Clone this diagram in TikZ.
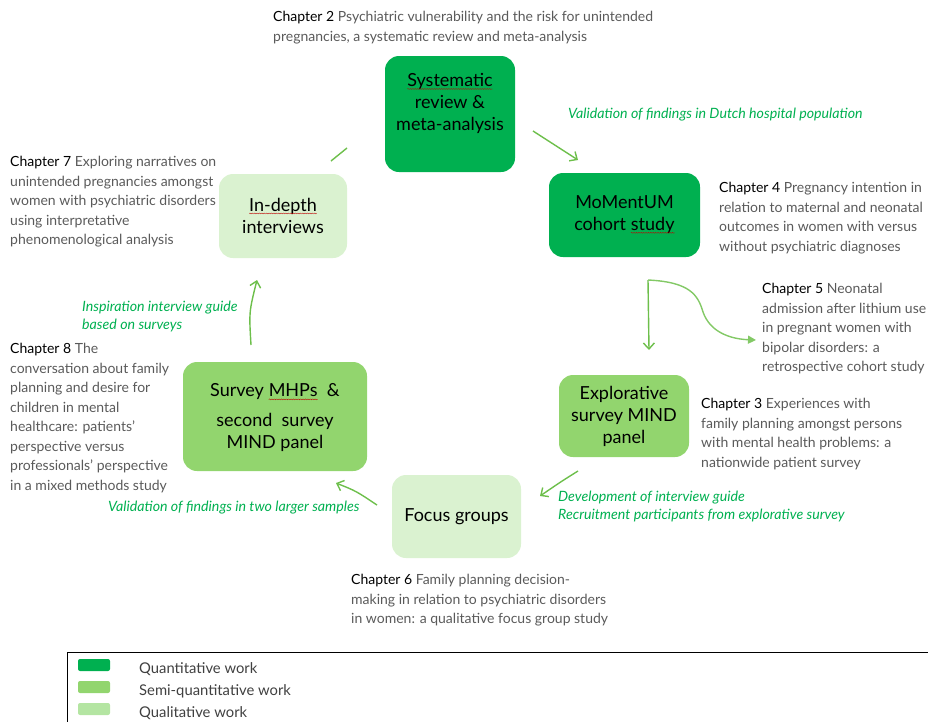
\documentclass[tikz,border=0pt]{standalone}
\usepackage{fontspec}
\setmainfont{Lato}
\usetikzlibrary{arrows.meta,decorations.pathmorphing}
\definecolor{quant}{HTML}{00B050}
\definecolor{semi}{HTML}{92D56E}
\definecolor{qual}{HTML}{DAF2D0}
\definecolor{qualkey}{HTML}{B4E5A2}
\definecolor{arrowgreen}{HTML}{6DBF4B}
\definecolor{labelgreen}{HTML}{00B050}
\definecolor{chapgray}{HTML}{5A5A5A}
\definecolor{keygray}{HTML}{404040}
% word with a wavy underline
\newcommand\squig[1]{\tikz[baseline=(w.base)]{\node[inner sep=0pt,outer sep=0pt,minimum width=0pt,minimum height=0pt,draw=none,fill=none](w){#1};\draw[sharp corners,red!75!black,line width=0.35pt,decorate,decoration={snake,amplitude=0.45pt,segment length=2.4pt}]([yshift=-2.4pt]w.base west)--([yshift=-2.4pt]w.base east);}}
\tikzset{
  workbox/.style={rounded corners=14pt,inner sep=0pt},
  boxtext/.style={inner sep=0pt,align=center,font=\fontsize{18}{22}\selectfont,text=black},
  chap/.style={anchor=north west,inner sep=0pt,align=left,
    font=\fontsize{14}{19.5}\selectfont,text=chapgray},
  flowlabel/.style={anchor=north west,inner sep=0pt,align=left,
    font=\fontsize{14.2}{18}\selectfont\itshape,text=labelgreen},
  flow/.style={draw=arrowgreen,line width=1.4pt,-{Straight Barb[length=6pt,width=11pt]}},
  keytext/.style={anchor=west,inner sep=0pt,font=\fontsize{14.8}{16}\selectfont,text=keygray},
  swatch/.style={rounded corners=2pt,draw=none}
}
\newcommand\ch[1]{{\color{black}Chapter #1}}
\begin{document}
\begin{tikzpicture}[x=1pt,y=-1pt]
\useasboundingbox (0,0) rectangle (928,721);
\clip (0,0) rectangle (928,721);

% study boxes
\node[workbox,fill=quant,minimum width=130pt,minimum height=116pt] (sr) at (450,114) {};
\node[workbox,fill=quant,minimum width=151pt,minimum height=84pt] (mom) at (624.5,215) {};
\node[workbox,fill=qual,minimum width=128pt,minimum height=84pt] (idi) at (283,216) {};
\node[workbox,fill=semi,minimum width=130pt,minimum height=82pt] (exp) at (624,416) {};
\node[workbox,fill=semi,minimum width=184pt,minimum height=109pt] (mhp) at (275,416.5) {};
\node[workbox,fill=qual,minimum width=129pt,minimum height=83pt] (fg) at (456.5,516.5) {};

% box captions
\node[boxtext] (srtext) at (450,103.5) {\squig{Systematic}\\review \&\\meta-analysis};
\node[boxtext] (momtext) at (624.5,214.5) {MoMentUM\\cohort \squig{study}};
\node[boxtext] (iditext) at (283,215.5) {\squig{In-depth}\\interviews};
\node[boxtext] (exptext) at (624,416) {Explorative\\survey MIND\\panel};
\node[boxtext] (mhptext) at (275,418) {Survey \squig{MHPs}~\ \&\\[8pt]second~\ survey\\MIND panel};
\node[boxtext] (fgtext) at (456.5,516.5) {Focus groups};

% connector end points
\coordinate (srout) at (533,131);
\coordinate (momin) at (578,160);
\coordinate (idiout) at (331,161);
\coordinate (srin) at (347,148);
\coordinate (momout) at (648,280);
\coordinate (expin) at (649,350);
\coordinate (lithium) at (756,340);
\coordinate (expout) at (578,471);
\coordinate (fgin) at (540,496);
\coordinate (fgout) at (377,505);
\coordinate (mhpin) at (336,483);
\coordinate (mhpout) at (251,345);
\coordinate (idiin) at (257,280);

% connectors
\draw[flow] (srout) -- (momin);
\draw[draw=arrowgreen,line width=1.4pt] (idiout) -- (srin);
\draw[flow] (momout) -- (expin);
\draw[draw=arrowgreen!85!white,line width=1.4pt,-{Triangle[length=8pt,width=8pt]}]
  (momout) .. controls (690,282) and (698,295) .. (703,312)
  .. controls (710,332) and (730,339) .. (lithium);
\draw[flow] (expout) .. controls (562,481) .. (fgin);
\draw[flow] (fgout) .. controls (356,491) .. (mhpin);
\draw[flow] (mhpout) .. controls (249,312) .. (idiin);

% labels on connectors
\node[flowlabel] (l1) at (568,107.5) {Validation of findings in Dutch hospital population};
\node[flowlabel] (l2) at (82,300.5) {Inspiration interview guide\\based on surveys};
\node[flowlabel] (l3) at (558,490.5) {Development of interview guide\\Recruitment participants from explorative survey};
\node[flowlabel] (l4) at (108,500.5) {Validation of findings in two larger samples};

% chapter descriptions
\node[chap] (c2) at (273,11) {\ch{2} Psychiatric vulnerability and the risk for unintended\\pregnancies, a systematic review and meta-analysis};
\node[chap] (c7) at (10,156) {\ch{7} Exploring narratives on\\unintended pregnancies amongst\\women with psychiatric disorders\\using interpretative\\phenomenological analysis};
\node[chap] (c4) at (719,182) {\ch{4} Pregnancy intention in\\relation to maternal and neonatal\\outcomes in women with versus\\without psychiatric diagnoses};
\node[chap] (c5) at (762,283) {\ch{5} Neonatal\\admission after lithium use\\in pregnant women with\\bipolar disorders: a\\retrospective cohort study};
\node[chap] (c3) at (701,398) {\ch{3} Experiences with\\family planning amongst persons\\with mental health problems: a\\nationwide patient survey};
\node[chap] (c8) at (10,343) {\ch{8} The\\conversation about family\\planning and desire for\\children in mental\\healthcare: patients'\\perspective versus\\professionals' perspective\\in a mixed methods study};
\node[chap] (c6) at (351,574) {\ch{6} Family planning decision-\\making in relation to psychiatric disorders\\in women: a qualitative focus group study};

% key
\draw[black,line width=0.8pt] (67,652) rectangle (960,760);
\fill[swatch,quant] (78,659) rectangle (110,671);
\fill[swatch,semi] (78,681) rectangle (110,693);
\fill[swatch,qualkey] (78,703) rectangle (110,715);
\node[keytext] (k1) at (139,669.5) {Quantitative work};
\node[keytext] (k2) at (139,691.5) {Semi-quantitative work};
\node[keytext] (k3) at (139,713) {Qualitative work};
\end{tikzpicture}
\end{document}
